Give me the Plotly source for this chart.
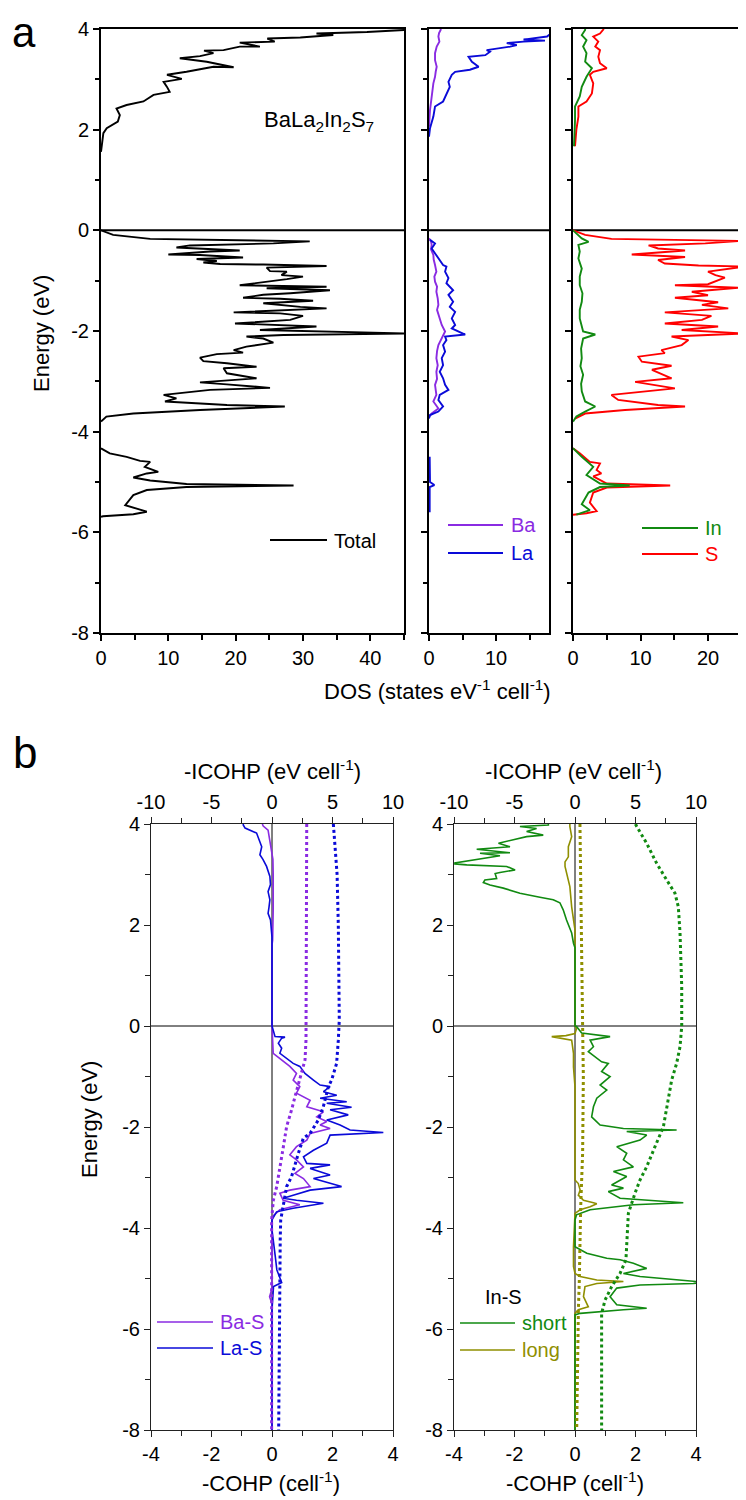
import plotly.graph_objects as go

W, H = 746, 1500
OFF = 8  # page body margin of the viewer
def PX(x): return (x - OFF) / W
def PY(y): return 1 - (y - OFF) / H
N = None

# ---------------- tick labels ----------------
energy_ticks = [-8, -6, -4, -2, 0, 2, 4]
energy_labels = ["-8", "-6", "-4", "-2", "0", "2", "4"]
dos_ticks = [0, 10, 20, 30, 40]
dos_labels = ["0", "10", "20", "30", "40"]
cohp_ticks = [-4, -2, 0, 2, 4]
cohp_labels = ["-4", "-2", "0", "2", "4"]
icohp_ticks = [-10, -5, 0, 5, 10]
icohp_labels = ["-10", "-5", "0", "5", "10"]

# ---------------- Panel a data (E in eV, DOS in states eV^-1 cell^-1) ----------------
tot_E = [4.0, 3.98, 3.94, 3.91, 3.88, 3.83, 3.81, 3.75, 3.73, 3.65, 3.65, 3.58, 3.57, 3.52, 3.46, 3.42, 3.35, 3.24, 3.25, 3.15, 3.09, 3.01, 2.95, 2.85, 2.75, 2.69, 2.56, 2.49, 2.42, 2.29, 2.16, 2.03, 1.93, 1.56, N,
         0.0, -0.09, -0.17, -0.19, -0.21, -0.22, -0.26, -0.28, -0.30, -0.34, -0.37, -0.40, -0.42, -0.48, -0.49, -0.54, -0.57, -0.61, -0.64, -0.67, -0.68, -0.71, -0.74, -0.81, -0.82, -0.89, -0.92, -0.97, -1.09, -1.12, -1.15, -1.19, -1.25, -1.28, -1.34, -1.36, -1.40, -1.45, -1.52, -1.55, -1.63, -1.65, -1.70, -1.78, -1.85, -1.88, -1.91, -1.98, -2.01, -2.05, -2.08, -2.11, -2.15, -2.23, -2.31, -2.38, -2.43, -2.46, -2.53, -2.60, -2.64, -2.71, -2.74, -2.84, -2.94, -3.02, -3.06, -3.13, -3.17, -3.27, -3.34, -3.40, -3.47, -3.50, -3.57, -3.64, -3.70, -3.80, N,
         -4.33, -4.43, -4.50, -4.58, -4.60, -4.70, -4.80, -4.83, -4.91, -4.97, -5.04, -5.07, -5.10, -5.16, -5.26, -5.46, -5.59, -5.64, -5.68, -5.69]
tot_dos = [48, 45, 39.5, 32, 34.5, 29.6, 24.7, 25.8, 20.6, 23.6, 20.6, 18.2, 15.3, 16.7, 14.7, 11.7, 15.7, 19.7, 16.7, 12.7, 9.8, 12, 9.3, 9.8, 10.2, 7.8, 6.3, 3.8, 2.3, 2.8, 2.5, 0.85, 0.35, 0, N,
           0, 1.8, 7.3, 18.7, 25.6, 31, 25.6, 18.7, 13.2, 11.2, 15.7, 20.6, 16.2, 10, 14.7, 21.1, 14.2, 17.2, 15.2, 17.7, 24.1, 33.5, 24.6, 25.1, 27.6, 26.8, 30, 27.6, 20.6, 33.5, 24.6, 34, 28.1, 24.1, 21.1, 26.6, 31.5, 24.1, 29.6, 33.5, 19.7, 26.6, 30, 28.1, 19.9, 27.6, 32, 23.6, 35.5, 46, 27.1, 21.6, 24.1, 25.6, 21.6, 19.7, 21.1, 17.2, 14.7, 15.2, 18.7, 23.1, 18.2, 18.7, 23.1, 14.7, 18.7, 25.1, 16.2, 9.3, 11.2, 9.5, 18.7, 27.3, 14.7, 4.8, 0.8, 0, N,
           0, 1.3, 3.8, 5.8, 7.3, 6.5, 8.5, 6.8, 4.8, 7.3, 12.7, 28.6, 12.7, 6.8, 4.8, 3.6, 6.8, 4.8, 0.3, 0]

ba_E = [4.0, 3.99, 3.92, 3.85, 3.75, 3.65, 3.52, 3.38, 3.25, 3.15, 3.05, 2.92, 2.66, 2.39, 2.06, N,
        -0.16, -0.22, -0.29, -0.38, -0.49, -0.58, -0.69, -0.82, -0.92, -1.02, -1.12, -1.22, -1.35, -1.48, -1.58, -1.68, -1.78, -1.88, -2.01, -2.15, -2.28, -2.40, -2.54, -2.68, -2.81, -2.95, -3.07, -3.27, -3.40, -3.54, -3.64, -3.70]
ba_dos = [1.8, 1.75, 1.5, 1.4, 1.55, 1.15, 0.9, 0.9, 1.15, 1.0, 0.9, 0.65, 0.4, 0.15, 0, N,
          0, 0.3, 0.4, 0.3, 0.65, 0.7, 0.9, 1.1, 0.8, 0.9, 1.2, 1.1, 1.3, 1.4, 1.2, 1.4, 1.6, 1.9, 2.4, 1.9, 1.4, 1.2, 1.1, 1.3, 1.1, 1.2, 0.9, 1.1, 0.65, 1.4, 0.4, 0]

la_E = [4.0, 3.86, 3.85, 3.79, 3.77, 3.75, 3.72, 3.68, 3.65, 3.58, 3.55, 3.48, 3.45, 3.35, 3.25, 3.19, 3.15, 3.09, 2.95, 2.85, 2.72, 2.56, 2.46, 2.26, 2.03, 1.86, N,
        -0.19, -0.26, -0.36, -0.49, -0.56, -0.69, -0.72, -0.82, -0.95, -1.05, -1.19, -1.28, -1.42, -1.52, -1.62, -1.75, -1.88, -1.95, -2.07, -2.11, -2.18, -2.28, -2.41, -2.54, -2.68, -2.81, -2.94, -3.07, -3.17, -3.27, -3.37, -3.50, -3.60, -3.67, -3.74, N,
        -4.5, -5.0, -5.06, -5.1, -5.6]
la_dos = [19, 17.8, 17.6, 14.1, 17.3, 14.1, 11.6, 13.1, 12.1, 8.6, 9.1, 8.4, 5.9, 6.4, 7.4, 6.1, 3.9, 3.4, 2.9, 3.1, 2.6, 2.1, 0.9, 0.65, 0.15, 0, N,
          0.15, 0.9, 0.4, 1.1, 1.4, 2.1, 2.6, 2.4, 2.9, 2.6, 3.6, 2.9, 3.6, 3.1, 3.9, 3.4, 3.9, 3.4, 5.4, 2.4, 2.6, 2.1, 2.4, 1.9, 2.1, 1.6, 2.1, 2.4, 2.9, 1.6, 1.4, 2.1, 1.4, 0.15, 0, N,
          0.1, 0.15, 0.8, 0.1, 0.1]

in_E = [4.0, 3.98, 3.88, 3.78, 3.65, 3.52, 3.35, 3.22, 3.05, 2.85, 2.66, 2.46, 2.19, 1.67, N,
        0.0, -0.16, -0.23, -0.29, -0.42, -0.56, -0.76, -0.92, -1.09, -1.25, -1.42, -1.58, -1.75, -2.01, -2.07, -2.15, -2.35, -2.54, -2.70, -2.87, -3.05, -3.20, -3.40, -3.50, -3.60, -3.70, -3.80, N,
        -4.33, -4.50, -4.70, -4.86, -5.03, -5.07, -5.10, -5.21, -5.44, -5.56, -5.65]
in_dos = [1.8, 1.8, 1.3, 2.0, 1.5, 2.0, 1.8, 2.8, 2.0, 1.3, 1.0, 0.3, 0.3, 0.15, N,
          0, 1.3, 2.3, 0.8, 1.0, 0.8, 1.3, 1.0, 1.0, 1.4, 1.3, 1.0, 1.0, 1.5, 3.3, 1.5, 1.2, 1.3, 1.1, 1.5, 1.2, 1.3, 1.8, 3.3, 1.8, 0.5, 0, N,
          0, 1.3, 3.0, 2.0, 4.0, 8.4, 4.0, 2.3, 1.3, 2.5, 0.5]

s_E = [4.0, 3.99, 3.91, 3.85, 3.75, 3.65, 3.58, 3.45, 3.32, 3.22, 3.15, 3.09, 2.92, 2.72, 2.56, 2.46, 2.26, 2.0, 1.67, N,
       0.0, -0.09, -0.17, -0.20, -0.21, -0.26, -0.30, -0.36, -0.40, -0.48, -0.53, -0.59, -0.66, -0.70, -0.72, -0.82, -0.89, -0.94, -1.07, -1.09, -1.14, -1.22, -1.29, -1.34, -1.43, -1.48, -1.55, -1.63, -1.70, -1.78, -1.85, -1.91, -1.98, -2.05, -2.11, -2.18, -2.28, -2.38, -2.44, -2.51, -2.61, -2.69, -2.77, -2.94, -3.01, -3.14, -3.27, -3.37, -3.47, -3.50, -3.57, -3.64, -3.74, N,
       -4.33, -4.43, -4.60, -4.63, -4.76, -4.83, -4.89, -5.03, -5.07, -5.11, -5.21, -5.41, -5.58, -5.62, -5.65]
s_dos = [4.5, 4.5, 4.0, 3.0, 3.75, 3.3, 4.0, 3.75, 4.0, 5.0, 3.0, 2.5, 3.0, 2.8, 2.0, 0.8, 0.8, 0.5, 0.3, N,
         0, 1.8, 5.7, 20.5, 25.0, 19.6, 11.2, 12.6, 16.6, 8.7, 16.6, 12.6, 13.6, 18.6, 25.5, 20.0, 21.1, 22.5, 20.0, 15.1, 24.5, 17.6, 20.0, 15.1, 21.5, 19.1, 23.0, 13.6, 20.5, 19.1, 13.6, 21.5, 16.1, 25.5, 14.6, 17.1, 16.1, 13.1, 13.6, 9.7, 10.2, 14.6, 11.7, 14.6, 9.2, 15.1, 5.7, 6.7, 12.6, 16.6, 7.7, 1.8, 0.3, N,
         0, 1.0, 2.5, 4.0, 3.5, 4.2, 3.0, 5.0, 14.4, 5.0, 3.0, 2.5, 3.5, 2.0, 0]

# ---------------- Panel b data (-COHP in cell^-1, -ICOHP in eV cell^-1) ----------------
las_E = [4.0, 3.98, 3.92, 3.82, 3.55, 3.39, 3.30, 3.16, 2.96, 2.80, 2.66, 2.50, 2.35, 2.23, 2.10, 1.76, 0.0,
         -0.21, -0.22, -0.24, -0.34, -0.44, -0.54, -0.64, -0.74, -0.80, -0.94, -1.07, -1.17, -1.20, -1.30, -1.37, -1.43, -1.50, -1.53, -1.61, -1.66, -1.76, -1.86, -1.96, -2.06, -2.11, -2.13, -2.16, -2.32, -2.46, -2.59, -2.72, -2.75, -2.82, -2.95, -3.02, -3.18, -3.25, -3.35, -3.41, -3.45, -3.51, -3.61, -3.68, -3.84,
         -4.04, -4.57, -4.83, -5.08, -5.16, -5.62, -8.0]
las_cohp = [-0.95, -0.95, -0.89, -0.51, -0.34, -0.40, -0.30, -0.18, -0.07, -0.05, -0.13, -0.07, -0.10, -0.13, -0.05, 0, 0,
            0.10, 0.43, 0.32, 0.21, 0.32, 0.26, 0.48, 0.70, 0.92, 1.09, 1.37, 1.59, 1.92, 1.70, 2.14, 1.59, 2.47, 1.81, 2.63, 1.92, 2.52, 1.81, 2.25, 2.58, 3.68, 2.69, 1.92, 1.81, 1.37, 1.04, 1.15, 1.92, 1.26, 1.92, 1.37, 2.30, 1.26, 0.70, 0.37, 0.81, 1.70, 0.70, 0.15, 0,
            0, 0.11, 0.16, 0.32, 0.05, 0, 0]
bas_E = [4.0, 3.96, 3.88, 3.6, 3.3, 3.0, 2.6, 2.3, 1.7, 1.6, 0.0,
         -0.54, -0.80, -0.94, -1.07, -1.20, -1.33, -1.47, -1.60, -1.70, -1.80, -1.89, -1.96, -2.03, -2.13, -2.26, -2.39, -2.55, -2.65, -2.79, -2.92, -3.02, -3.18, -3.25, -3.31, -3.45, -3.54, -3.64, -3.78,
         -5.2, -5.36, -5.5, -8.0]
bas_cohp = [-0.32, -0.29, -0.13, -0.05, 0.03, 0.04, 0.05, 0.04, 0.02, 0, 0,
            0.04, 0.59, 0.81, 0.70, 0.92, 0.81, 1.26, 1.15, 1.70, 1.48, 1.81, 1.59, 1.92, 1.26, 1.15, 0.81, 0.59, 0.81, 1.04, 0.76, 1.04, 1.26, 0.59, 0.26, 0.37, 0.92, 0.26, 0,
            0, -0.08, 0, 0]
bas_icohp_E = [4.0, 2.0, 0.12, -0.28, -0.67, -1.07, -1.40, -1.66, -1.99, -2.39, -2.79, -3.18, -3.45, -3.84, -8.0]
bas_icohp = [2.87, 2.87, 2.86, 2.81, 2.73, 2.31, 1.90, 1.62, 1.21, 0.94, 0.66, 0.39, 0.11, -0.03, -0.03]
las_icohp_E = [4.0, 3.5, 3.0, 2.0, 1.0, 0.12, -0.28, -0.74, -1.07, -1.20, -1.60, -1.86, -2.13, -2.22, -2.52, -2.98, -3.18, -3.51, -3.84, -4.2, -5.0, -5.3, -8.0]
las_icohp = [5.07, 5.25, 5.38, 5.48, 5.54, 5.56, 5.48, 5.34, 4.93, 4.66, 4.24, 3.83, 3.14, 2.59, 2.18, 1.62, 1.21, 0.94, 0.72, 0.68, 0.66, 0.60, 0.55]

short_E = [4.0, 3.98, 3.95, 3.91, 3.85, 3.78, 3.75, 3.68, 3.62, 3.55, 3.50, 3.43, 3.42, 3.37, 3.32, 3.23, 3.21, 3.19, 3.16, 3.09, 3.04, 3.02, 2.92, 2.89, 2.84, 2.79, 2.73, 2.63, 2.55, 2.50, 2.44, 2.30, 2.10, 1.84, 1.64, 1.55, 0.0,
           -0.01, -0.14, -0.21, -0.28, -0.41, -0.51, -0.61, -0.71, -0.74, -0.90, -1.00, -1.17, -1.27, -1.43, -1.60, -1.80, -1.96, -2.03, -2.06, -2.09, -2.16, -2.26, -2.39, -2.52, -2.65, -2.79, -2.88, -2.98, -3.15, -3.21, -3.28, -3.41, -3.50, -3.54, -3.64, -3.74, -3.84,
           -4.37, -4.50, -4.60, -4.63, -4.70, -4.80, -4.90, -4.96, -5.04, -5.07, -5.10, -5.13, -5.19, -5.36, -5.52, -5.59, -5.62, -5.69, -5.72, -8.0]
short_cohp = [-0.88, -0.88, -1.82, -1.27, -1.60, -1.05, -1.60, -2.15, -2.53, -2.15, -3.25, -2.15, -3.14, -2.48, -3.03, -3.97, -3.97, -3.58, -2.26, -1.98, -2.48, -2.64, -2.59, -2.98, -3.03, -2.81, -2.37, -1.82, -1.16, -0.72, -0.50, -0.39, -0.28, -0.11, -0.05, 0, 0,
              0.05, 0.22, 1.16, 0.50, 0.61, 0.44, 0.66, 0.88, 1.10, 0.88, 1.16, 0.83, 1.05, 0.72, 0.61, 0.55, 0.83, 1.60, 3.36, 1.71, 2.37, 2.15, 1.38, 1.71, 1.60, 1.93, 1.27, 1.71, 1.21, 1.60, 1.10, 1.49, 3.58, 1.93, 0.50, 0.05, 0,
              0, 0.39, 1.05, 1.49, 1.93, 2.37, 1.60, 2.15, 3.91, 4.2, 3.91, 2.15, 1.38, 1.16, 1.38, 2.37, 1.60, 0.17, 0, 0]
long_E = [4.0, 3.95, 3.75, 3.55, 3.35, 3.25, 3.16, 3.02, 2.76, 2.36, 2.10, 1.9, 0.0,
          -0.05, -0.15, -0.19, -0.21, -0.24, -0.28, -0.54, -0.81, -1.2, -3.05, -3.12, -3.25, -3.35, -3.45, -3.50, -3.52, -3.58, -3.64, -3.71,
          -4.37, -4.76, -4.90, -4.96, -5.03, -5.06, -5.10, -5.16, -5.36, -5.56, -5.62, -5.69, -8.0]
long_cohp = [-0.17, -0.17, -0.11, -0.22, -0.22, -0.33, -0.33, -0.28, -0.17, -0.11, -0.05, 0, 0,
             0.05, 0.0, -0.30, -0.77, -0.50, -0.11, -0.05, -0.05, 0, 0, 0.11, 0.17, 0.11, 0.28, 0.61, 0.72, 0.50, 0.17, 0,
             -0.05, -0.05, 0, 0.17, 0.72, 1.60, 0.72, 0.33, 0.28, 0.44, 0.11, 0, 0]
short_icohp_E = [4.0, 3.95, 3.62, 3.22, 2.89, 2.63, 2.36, 1.84, 0.78, -0.01, -0.41, -0.74, -1.07, -1.47, -2.0, -2.39, -2.79, -3.05, -3.31, -3.71, -4.17, -4.63, -4.90, -5.16, -5.43, -5.69, -8.0]
short_icohp = [5.0, 5.10, 5.92, 6.75, 7.58, 8.26, 8.54, 8.68, 8.82, 8.82, 8.68, 8.40, 7.99, 7.71, 7.30, 6.61, 5.92, 5.37, 4.96, 4.41, 4.32, 4.21, 3.72, 3.03, 2.48, 2.20, 2.20]
long_icohp_E = [4.0, 2.0, 0.0, -1.0, -2.52, -3.58, -4.5, -5.1, -5.6, -8.0]
long_icohp = [0.41, 0.55, 0.63, 0.69, 0.63, 0.47, 0.42, 0.35, 0.28, 0.14]

# ---------------- styles ----------------
FONT = "Arial, Liberation Sans, sans-serif"
BLACK = "#000000"
PURPLE = "#8A2BE2"
BLUE = "#0A0AD8"
GREEN = "#118A11"
RED = "#FF0000"
OLIVE = "#8F8F00"

fig = go.Figure()

def add(xs, ys, color, xa, ya, width=1.9, dash=None):
    fig.add_trace(go.Scatter(x=xs, y=ys, mode="lines", line=dict(color=color, width=width, dash=dash),
                             xaxis=xa, yaxis=ya, showlegend=False, hoverinfo="skip", connectgaps=False))

# panel a
add(tot_dos, tot_E, BLACK, "x", "y")
add(ba_dos, ba_E, PURPLE, "x2", "y2")
add(la_dos, la_E, BLUE, "x2", "y2")
add(s_dos, s_E, RED, "x3", "y3")
add(in_dos, in_E, GREEN, "x3", "y3")
# panel b
add(bas_icohp, bas_icohp_E, PURPLE, "x5", "y4", width=3, dash="dot")
add(las_icohp, las_icohp_E, BLUE, "x5", "y4", width=3, dash="dot")
add(bas_cohp, bas_E, PURPLE, "x4", "y4", width=1.6)
add(las_cohp, las_E, BLUE, "x4", "y4", width=1.6)
add(long_icohp, long_icohp_E, OLIVE, "x7", "y6", width=3, dash="dot")
add(short_icohp, short_icohp_E, GREEN, "x7", "y6", width=3, dash="dot")
add(long_cohp, long_E, OLIVE, "x6", "y6", width=1.6)
add(short_cohp, short_E, GREEN, "x6", "y6", width=1.6)

tickfont = dict(family=FONT, size=20, color=BLACK)

def xa_a(domain, rng, anchor, mirror=True):
    return dict(domain=domain, range=rng, anchor=anchor, showgrid=False, zeroline=False, automargin=False,
                showline=True, linewidth=2, linecolor=BLACK, mirror=mirror,
                ticks="outside", ticklen=6, tickwidth=1.5, tickcolor=BLACK,
                tickvals=dos_ticks, ticktext=dos_labels,
                minor=dict(dtick=5, tick0=0, ticks="outside", ticklen=5, tickwidth=1.5, tickcolor=BLACK),
                tickfont=tickfont)

def ya_a(anchor, labels, mirror=True):
    return dict(domain=[PY(633), PY(29)], range=[-8, 4], anchor=anchor, showgrid=False, zeroline=False,
                automargin=False,
                showline=True, linewidth=2, linecolor=BLACK, mirror=mirror,
                ticks="outside", ticklen=6, tickwidth=1.5, tickcolor=BLACK,
                tickvals=energy_ticks, ticktext=energy_labels,
                minor=dict(dtick=1, tick0=0, ticks="outside", ticklen=4, tickwidth=1.5, tickcolor=BLACK),
                showticklabels=labels, tickfont=tickfont)

LB = "#222222"
def xa_b(domain, anchor, rng, tv, tt, mdt, side="bottom", overlay=None):
    d = dict(range=rng, anchor=anchor, showgrid=False, zeroline=False, side=side, automargin=False,
             showline=True, linewidth=1, linecolor=LB,
             ticks="outside", ticklen=6, tickwidth=1, tickcolor=LB, tickvals=tv, ticktext=tt,
             minor=dict(dtick=mdt, tick0=0, ticks="outside", ticklen=5, tickwidth=1, tickcolor=LB),
             tickfont=tickfont)
    if overlay:
        d["overlaying"] = overlay
    else:
        d["domain"] = domain
    return d

def ya_b(anchor):
    return dict(domain=[PY(1430), PY(824)], range=[-8, 4], anchor=anchor, showgrid=False, zeroline=False,
                automargin=False,
                showline=True, linewidth=1, linecolor=LB, mirror=True,
                ticks="outside", ticklen=6, tickwidth=1, tickcolor=LB,
                tickvals=energy_ticks, ticktext=energy_labels,
                minor=dict(dtick=1, tick0=0, ticks="outside", ticklen=5, tickwidth=1, tickcolor=LB),
                tickfont=tickfont)

dA1 = [PX(101), PX(404)]
dA2 = [PX(429), PX(549)]
dA3 = [PX(573), PX(746)]
dB1 = [PX(151), PX(393)]
dB2 = [PX(454), PX(696)]

fig.update_layout(
    width=W, height=H, margin=dict(l=0, r=0, t=0, b=0, autoexpand=False),
    paper_bgcolor="white", plot_bgcolor="white",
    font=dict(family=FONT, color=BLACK),
    xaxis=xa_a(dA1, [0, 45], "y"),
    yaxis=ya_a("x", True),
    xaxis2=xa_a(dA2, [0, 17.9], "y2"),
    yaxis2=ya_a("x2", False),
    xaxis3=xa_a(dA3, [0, 25.63], "y3"),
    yaxis3=ya_a("x3", False, mirror=False),
    xaxis4=xa_b(dB1, "y4", [-4, 4], cohp_ticks, cohp_labels, 1),
    xaxis5=xa_b(None, "y4", [-10, 10], icohp_ticks, icohp_labels, 2.5, side="top", overlay="x4"),
    yaxis4=ya_b("x4"),
    xaxis6=xa_b(dB2, "y6", [-4, 4], cohp_ticks, cohp_labels, 1),
    xaxis7=xa_b(None, "y6", [-10, 10], icohp_ticks, icohp_labels, 2.5, side="top", overlay="x6"),
    yaxis6=ya_b("x6"),
)

shapes = []
# Fermi level lines
for xr, yr, w in [("x", "y", 2), ("x2", "y2", 2), ("x3", "y3", 2), ("x4", "y4", 1), ("x6", "y6", 1)]:
    shapes.append(dict(type="line", xref=xr + " domain", yref=yr, x0=0, x1=1, y0=0, y1=0,
                       line=dict(color=BLACK, width=w), layer="below"))
for xr, yr in [("x4", "y4"), ("x6", "y6")]:
    shapes.append(dict(type="line", xref=xr, yref=yr + " domain", x0=0, x1=0, y0=0, y1=1,
                       line=dict(color=BLACK, width=1), layer="below"))

# legend keys (paper coordinates)
def key(x0, x1, y, color, width=1.9):
    shapes.append(dict(type="line", xref="paper", yref="paper", x0=PX(x0), x1=PX(x1), y0=PY(y), y1=PY(y),
                       line=dict(color=color, width=width)))
key(270, 327, 540, BLACK)
key(448, 503, 525, PURPLE)
key(448, 503, 553, BLUE)
key(642, 698, 528, GREEN)
key(642, 698, 554, RED)
key(157, 213, 1322, PURPLE, 1.6)
key(157, 213, 1348, BLUE, 1.6)
key(460, 515, 1323, GREEN, 1.6)
key(460, 515, 1350, OLIVE, 1.6)
fig.update_layout(shapes=shapes)

ann = []
def text(x, y, s, size=20, color=BLACK, xanchor="center", angle=0, yanchor="middle"):
    ann.append(dict(x=PX(x), y=PY(y), xref="paper", yref="paper", text=s, showarrow=False,
                    font=dict(family=FONT, size=size, color=color), xanchor=xanchor, yanchor=yanchor,
                    textangle=angle, borderpad=0))
text(24, 8, "a", 42, yanchor="top")
text(25, 752, "b", 44)
text(319, 121, "BaLa<sub>2</sub>In<sub>2</sub>S<sub>7</sub>", 22)
text(333, 541, "Total", 20, xanchor="left")
text(510, 525, "Ba", 20, PURPLE, "left")
text(510, 553, "La", 20, BLUE, "left")
text(704, 528, "In", 20, GREEN, "left")
text(704, 554, "S", 20, RED, "left")
text(41, 334, "Energy (eV)", 22, angle=-90)
text(437, 690, "DOS (states eV<sup>-1</sup> cell<sup>-1</sup>)", 22)
text(272, 770, "-ICOHP (eV cell<sup>-1</sup>)", 22)
text(573, 770, "-ICOHP (eV cell<sup>-1</sup>)", 22)
text(271, 1482, "-COHP (cell<sup>-1</sup>)", 22)
text(575, 1482, "-COHP (cell<sup>-1</sup>)", 22)
text(89, 1120, "Energy (eV)", 22, angle=-90)
text(219, 1322, "Ba-S", 20, PURPLE, "left")
text(219, 1348, "La-S", 20, BLUE, "left")
text(484, 1297, "In-S", 20, BLACK, "left")
text(521, 1323, "short", 20, GREEN, "left")
text(521, 1350, "long", 20, OLIVE, "left")
fig.update_layout(annotations=ann)

fig.write_html("out.html")
